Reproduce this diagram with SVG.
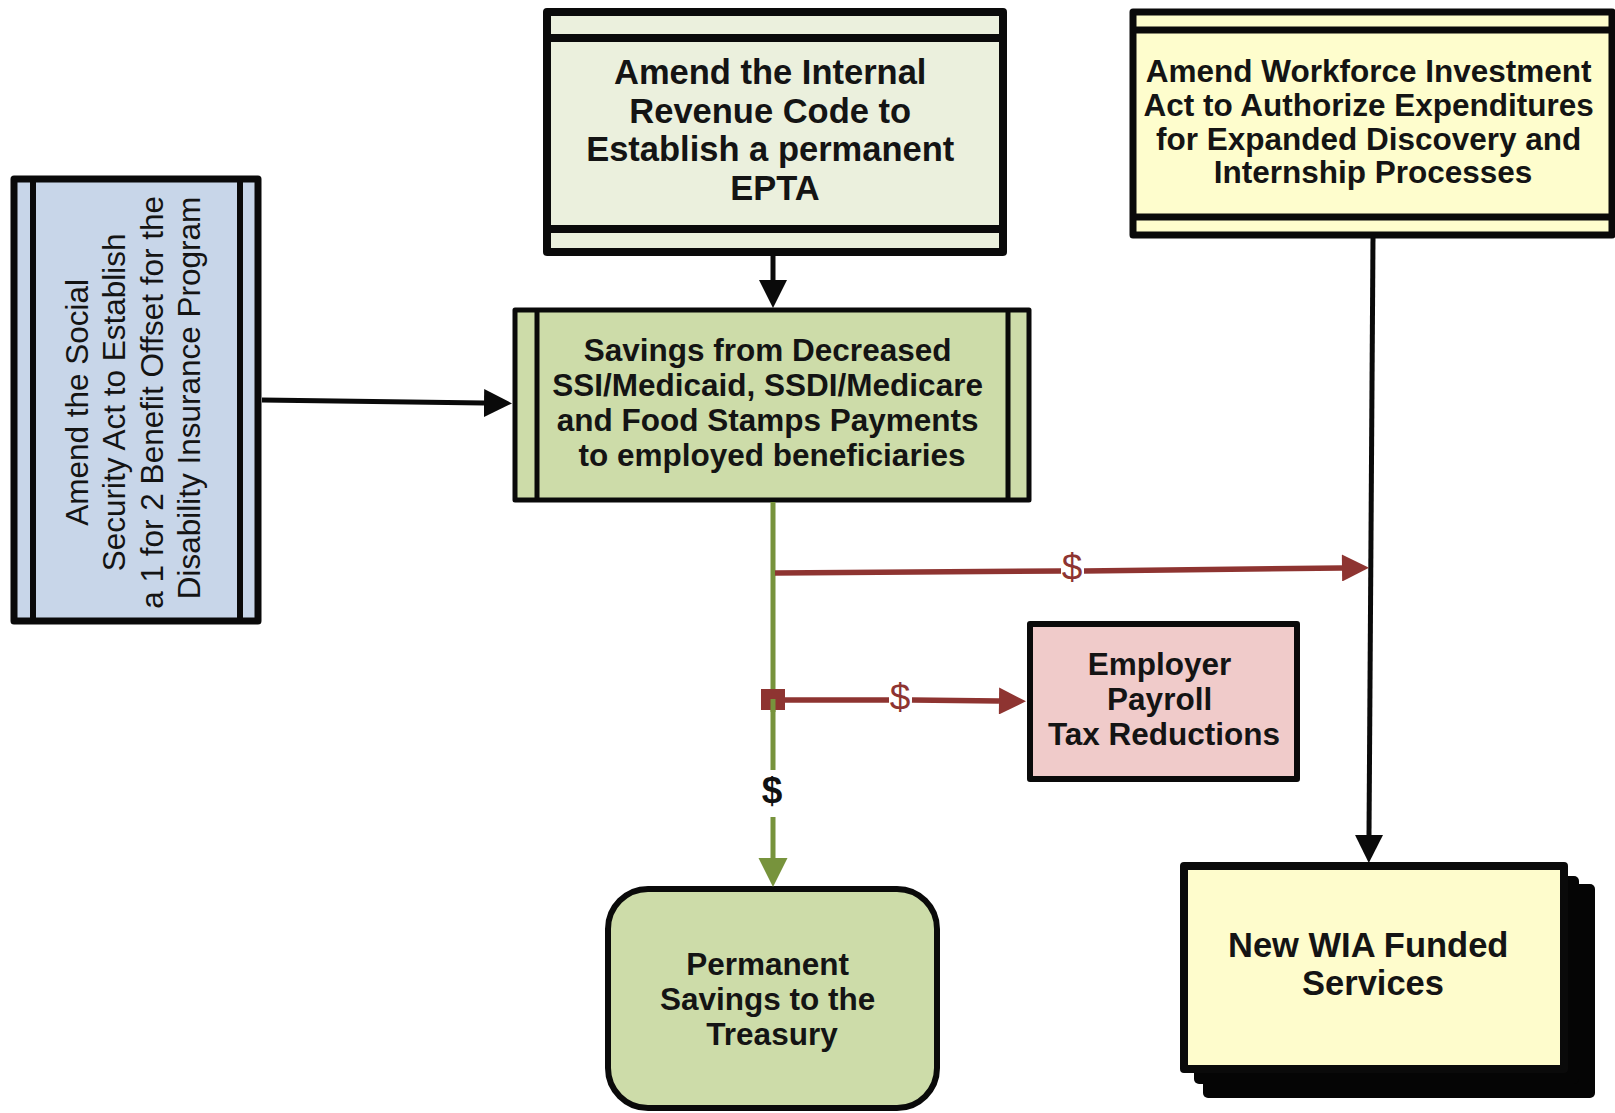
<svg xmlns="http://www.w3.org/2000/svg" width="1615" height="1113" viewBox="0 0 1615 1113">
<style>
.t{font-family:"Liberation Sans",Arial,Helvetica,sans-serif;font-weight:bold;fill:#141414;text-anchor:middle;font-size:31.5px}
.tl{font-size:34.5px}
.tr{font-family:"Liberation Sans",Arial,Helvetica,sans-serif;font-weight:normal;fill:#141414;text-anchor:middle;font-size:31.5px}
.box{stroke:#0a0a0a;stroke-linejoin:round}
.band{stroke:#0a0a0a;fill:none}
.cb{stroke:#0a0a0a;stroke-width:5;fill:none}
.cg{stroke:#77933c;stroke-width:5;fill:none}
.cr{stroke:#8e3431;stroke-width:5.5;fill:none}
.dr{font-family:"Liberation Sans",Arial,sans-serif;font-size:37px;fill:#8e3431;text-anchor:middle}
.db{font-family:"Liberation Sans",Arial,sans-serif;font-size:37px;font-weight:bold;fill:#111;text-anchor:middle}
</style>
<defs>
<marker id="ab" viewBox="0 0 30 30" refX="0" refY="15" markerWidth="28" markerHeight="30" markerUnits="userSpaceOnUse" orient="auto"><path d="M0,0 L30,15 L0,30 z" fill="#0a0a0a"/></marker>
<marker id="ag" viewBox="0 0 30 30" refX="0" refY="15" markerWidth="29" markerHeight="31" markerUnits="userSpaceOnUse" orient="auto"><path d="M0,0 L30,15 L0,30 z" fill="#77933c"/></marker>
<marker id="ar" viewBox="0 0 30 30" refX="0" refY="15" markerWidth="30" markerHeight="27" markerUnits="userSpaceOnUse" orient="auto"><path d="M0,0 L30,15 L0,30 z" fill="#8e3431"/></marker>
</defs>
<rect width="1615" height="1113" fill="#ffffff"/>

<g id="node-social-security">
<rect class="box" x="14" y="179" width="244" height="442" fill="#c8d6e9" stroke-width="7"/>
<line class="band" x1="33" y1="179" x2="33" y2="621" stroke-width="6"/>
<line class="band" x1="240" y1="179" x2="240" y2="621" stroke-width="6"/>
<text class="tr" transform="rotate(-90)">
<tspan x="-398" y="88">Amend the Social</tspan>
<tspan x="-398" y="125">Security Act to Establish</tspan>
<tspan x="-398" y="163">a 1 for 2 Benefit Offset for the</tspan>
<tspan x="-398" y="200">Disability Insurance Program</tspan>
</text>
</g>

<g id="node-epta">
<rect class="box" x="547" y="12" width="456" height="240" fill="#ebf0dd" stroke-width="8"/>
<line class="band" x1="547" y1="38" x2="1003" y2="38" stroke-width="8"/>
<line class="band" x1="547" y1="229" x2="1003" y2="229" stroke-width="8"/>
<text class="t tl">
<tspan x="775" y="84">Amend the Internal</tspan>
<tspan x="775" y="123">Revenue Code to</tspan>
<tspan x="775" y="161">Establish a permanent</tspan>
<tspan x="775" y="200">EPTA</tspan>
</text>
</g>

<g id="node-wia-amend">
<rect class="box" x="1133" y="12" width="479" height="223" fill="#fefdcd" stroke-width="7"/>
<line class="band" x1="1133" y1="30" x2="1612" y2="30" stroke-width="7"/>
<line class="band" x1="1133" y1="217" x2="1612" y2="217" stroke-width="7"/>
<text class="t">
<tspan x="1373" y="82">Amend Workforce Investment</tspan>
<tspan x="1373" y="116">Act to Authorize Expenditures</tspan>
<tspan x="1373" y="150">for Expanded Discovery and</tspan>
<tspan x="1373" y="183">Internship Processes</tspan>
</text>
</g>

<g id="node-savings">
<rect class="box" x="515" y="310" width="514" height="190" fill="#cddca9" stroke-width="5"/>
<line class="band" x1="537" y1="310" x2="537" y2="500" stroke-width="5"/>
<line class="band" x1="1008" y1="310" x2="1008" y2="500" stroke-width="5"/>
<text class="t">
<tspan x="772" y="361">Savings from Decreased</tspan>
<tspan x="772" y="396">SSI/Medicaid, SSDI/Medicare</tspan>
<tspan x="772" y="431">and Food Stamps Payments</tspan>
<tspan x="772" y="466">to employed beneficiaries</tspan>
</text>
</g>

<g id="node-employer">
<rect class="box" x="1030" y="624" width="267" height="155" fill="#f0cbca" stroke-width="6"/>
<text class="t">
<tspan x="1164" y="675">Employer</tspan>
<tspan x="1164" y="710">Payroll</tspan>
<tspan x="1164" y="745">Tax Reductions</tspan>
</text>
</g>

<g id="node-treasury">
<rect class="box" x="608" y="889" width="329" height="219" rx="40" ry="40" fill="#cddca9" stroke-width="6"/>
<text class="t">
<tspan x="772" y="975">Permanent</tspan>
<tspan x="772" y="1010">Savings to the</tspan>
<tspan x="772" y="1045">Treasury</tspan>
</text>
</g>

<g id="node-wia-services">
<rect x="1203" y="884" width="392" height="214" rx="5" fill="#050505"/>
<rect x="1194" y="876" width="385" height="208" rx="5" fill="#050505"/>
<rect class="box" x="1184" y="866" width="380" height="203" fill="#fefccc" stroke-width="8"/>
<text class="t tl">
<tspan x="1373" y="957">New WIA Funded</tspan>
<tspan x="1373" y="995">Services</tspan>
</text>
</g>

<g id="connectors">
<line class="cb" x1="773" y1="256" x2="773" y2="280" marker-end="url(#ab)"/>
<line class="cb" x1="262" y1="400" x2="484" y2="403" marker-end="url(#ab)"/>
<line class="cb" x1="1373" y1="237" x2="1369" y2="835" marker-end="url(#ab)"/>
<line class="cg" x1="773" y1="502" x2="773" y2="770"/>
<line class="cg" x1="773" y1="817" x2="773" y2="858" marker-end="url(#ag)"/>
<text class="db" x="772" y="803">$</text>
<line class="cr" x1="775" y1="573" x2="1061" y2="571"/>
<line class="cr" x1="1084" y1="571" x2="1342" y2="568" marker-end="url(#ar)"/>
<text class="dr" x="1072" y="580">$</text>
<rect x="761" y="689" width="24" height="21" fill="#8e3431"/>
<line class="cg" x1="773" y1="699" x2="773" y2="712" stroke-width="4"/>
<line class="cr" x1="784" y1="700" x2="889" y2="700"/>
<line class="cr" x1="912" y1="700" x2="999" y2="701" marker-end="url(#ar)"/>
<text class="dr" x="900" y="710">$</text>
</g>
</svg>
